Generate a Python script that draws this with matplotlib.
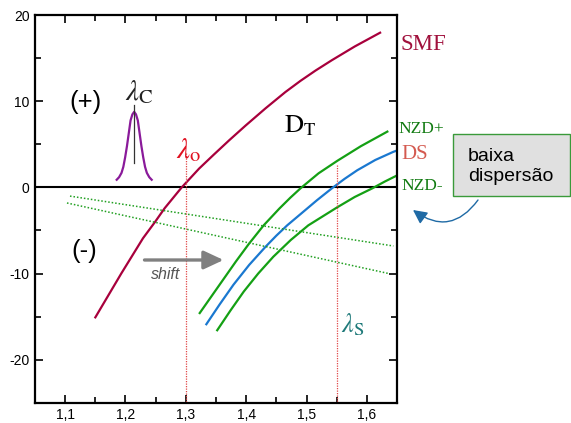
import matplotlib
matplotlib.use("Agg")
import matplotlib.pyplot as plt
from matplotlib.patches import Rectangle
from matplotlib.ticker import MultipleLocator, FuncFormatter

plt.rcParams['font.family'] = ['Liberation Sans', 'DejaVu Sans']
plt.rcParams['mathtext.fontset'] = 'stix'
plt.rcParams['axes.unicode_minus'] = False

# curvas de dispersao
smf_x = [1.150, 1.193, 1.229, 1.249, 1.265, 1.293, 1.322, 1.346, 1.372, 1.399,
         1.432, 1.465, 1.490, 1.515, 1.542, 1.580, 1.622]
smf_y = [-15.1, -10.0, -5.9, -4.0, -2.4, 0.0, 2.2, 3.8, 5.5, 7.2,
         9.2, 11.1, 12.4, 13.6, 14.8, 16.4, 18.0]

nzdp_x = [1.323, 1.343, 1.363, 1.383, 1.404, 1.429, 1.455, 1.473, 1.490, 1.520,
          1.551, 1.590, 1.634]
nzdp_y = [-14.6, -12.6, -10.6, -8.6, -6.6, -4.4, -2.45, -1.2, -0.1, 1.65,
          3.1, 4.8, 6.5]

ds_x = [1.334, 1.356, 1.379, 1.405, 1.432, 1.450, 1.468, 1.490, 1.517, 1.542,
        1.563, 1.584, 1.614, 1.644, 1.650]
ds_y = [-15.9, -13.6, -11.3, -9.0, -6.9, -5.6, -4.4, -3.1, -1.5, -0.1,
        1.0, 2.0, 3.2, 4.15, 4.3]

nzdm_x = [1.352, 1.374, 1.396, 1.420, 1.445, 1.474, 1.503, 1.527, 1.551, 1.580,
          1.609, 1.630, 1.650]
nzdm_y = [-16.6, -14.3, -12.1, -10.0, -8.05, -6.1, -4.4, -3.35, -2.3, -1.1,
          -0.1, 0.7, 1.4]

# retas pontilhadas (inclinacao)
slope1_x = [1.108, 1.644]
slope1_y = [-1.0, -6.8]
slope2_x = [1.103, 1.636]
slope2_y = [-1.8, -10.0]

# pulso em lambda_C
pulse_c = 1.2144
pulse_dx = [0, 0.003, 0.006, 0.009, 0.012, 0.015, 0.018, 0.021, 0.025, 0.029]
pulse_y = [8.8, 8.5, 7.8, 6.3, 4.8, 3.5, 2.4, 1.7, 1.2, 0.9]

lambda_o = 1.30
lambda_s = 1.55

xticks = [1.1, 1.2, 1.3, 1.4, 1.5, 1.6]
yticks = [-20, -10, 0, 10, 20]

fig = plt.figure(figsize=(5.71, 4.23), dpi=100)
ax = fig.add_axes([35 / 571, 1 - 402.5 / 423, 362 / 571, 387 / 423])

ax.axhline(0, color='black', lw=1.5, zorder=1)

ax.plot(smf_x, smf_y, color='#a8003c', lw=1.6)
ax.plot(nzdp_x, nzdp_y, color='#14a014', lw=1.6)
ax.plot(ds_x, ds_y, color='#1a78d0', lw=1.6)
ax.plot(nzdm_x, nzdm_y, color='#14a014', lw=1.6)

ax.plot(slope1_x, slope1_y, color='#22a022', lw=1.1, ls=(0, (1, 1.3)))
ax.plot(slope2_x, slope2_y, color='#22a022', lw=1.1, ls=(0, (1, 1.3)))

ax.plot([lambda_o, lambda_o], [4.0, -25], color='#e04848', lw=0.9, ls=(0, (1, 1)))
ax.plot([lambda_s, lambda_s], [2.6, -25], color='#e04848', lw=0.9, ls=(0, (1, 1)))

px = [pulse_c - d for d in pulse_dx[::-1]] + [pulse_c + d for d in pulse_dx[1:]]
py = pulse_y[::-1] + pulse_y[1:]
ax.plot(px, py, color='#8a1a9a', lw=1.6)
ax.plot([pulse_c, pulse_c], [2.8, 9.6], color='#333333', lw=0.9)

# textos
ax.text(1.133, 9.9, '(+)', fontsize=18.5, ha='center', va='center')
ax.text(1.131, -7.4, '(-)', fontsize=18.5, ha='center', va='center')
ax.text(1.2227, 11.1, r'$\lambda_{\mathrm{C}}$', fontsize=21, ha='center', va='center', color='#222222')
ax.text(1.304, 4.3, r'$\lambda_{\mathrm{o}}$', fontsize=21, ha='center', va='center', color='#e01020')
ax.text(1.4897, 7.15, r'$\mathrm{D}_{\mathrm{T}}$', fontsize=19, ha='center', va='center', color='black')
ax.text(1.5768, -16.0, r'$\lambda_{\mathrm{S}}$', fontsize=19, ha='center', va='center', color='#1f7a7a')

ax.text(1.6937, 16.6, 'SMF', fontsize=16.5, family='Liberation Serif', ha='center', va='center', color='#a0103c')
ax.text(1.652, 6.8, 'NZD+', fontsize=12.5, family='Liberation Serif', ha='left', va='center', color='#107a10')
ax.text(1.658, 3.84, 'DS', fontsize=15, family='Liberation Serif', ha='left', va='center', color='#d45a50')
ax.text(1.658, 0.23, 'NZD-', fontsize=12.5, family='Liberation Serif', ha='left', va='center', color='#107a10')

ax.annotate('', xy=(1.3625, -8.43), xytext=(1.2315, -8.43),
            arrowprops=dict(arrowstyle='-|>,head_length=0.6,head_width=0.28', mutation_scale=20,
                            color='#808080', lw=2.4, shrinkA=0, shrinkB=0))
ax.text(1.2667, -10.17, 'shift', fontsize=11.5, style='italic', ha='center', va='center', color='#555555')

# caixa "baixa dispersao"
fig.patches.append(Rectangle((453 / 571, 1 - 196 / 423), 117 / 571, 62 / 423,
                             transform=fig.transFigure, facecolor='#e0e0e0',
                             edgecolor='#3a9a3a', lw=1))
fig.text(468 / 571, 1 - 166.5 / 423, 'baixa\ndispersão', fontsize=14, ha='left', va='center',
         linespacing=1.2, color='black')
ax.annotate('', xy=(413, 213), xycoords='figure pixels', xytext=(478, 223), textcoords='figure pixels',
            annotation_clip=False,
            arrowprops=dict(arrowstyle='-|>,head_length=0.6,head_width=0.3', mutation_scale=14,
                            color='#1f6aa5', lw=1.0, connectionstyle='arc3,rad=-0.5',
                            shrinkA=0, shrinkB=0))

ax.set_xlim(1.05, 1.65)
ax.set_ylim(-25, 20)
ax.set_xticks(xticks)
ax.set_yticks(yticks)
ax.xaxis.set_minor_locator(MultipleLocator(0.05))
ax.yaxis.set_minor_locator(MultipleLocator(5))
ax.xaxis.set_major_formatter(FuncFormatter(lambda v, p: ('%.1f' % v).replace('.', ',')))
ax.tick_params(which='both', direction='in', top=True, right=True, labelsize=10, pad=4,
               width=1.2, colors='black')
ax.tick_params(which='major', length=6)
ax.tick_params(which='minor', length=4)
for s in ax.spines.values():
    s.set_linewidth(1.6)

fig.savefig('out.png', dpi=100)
